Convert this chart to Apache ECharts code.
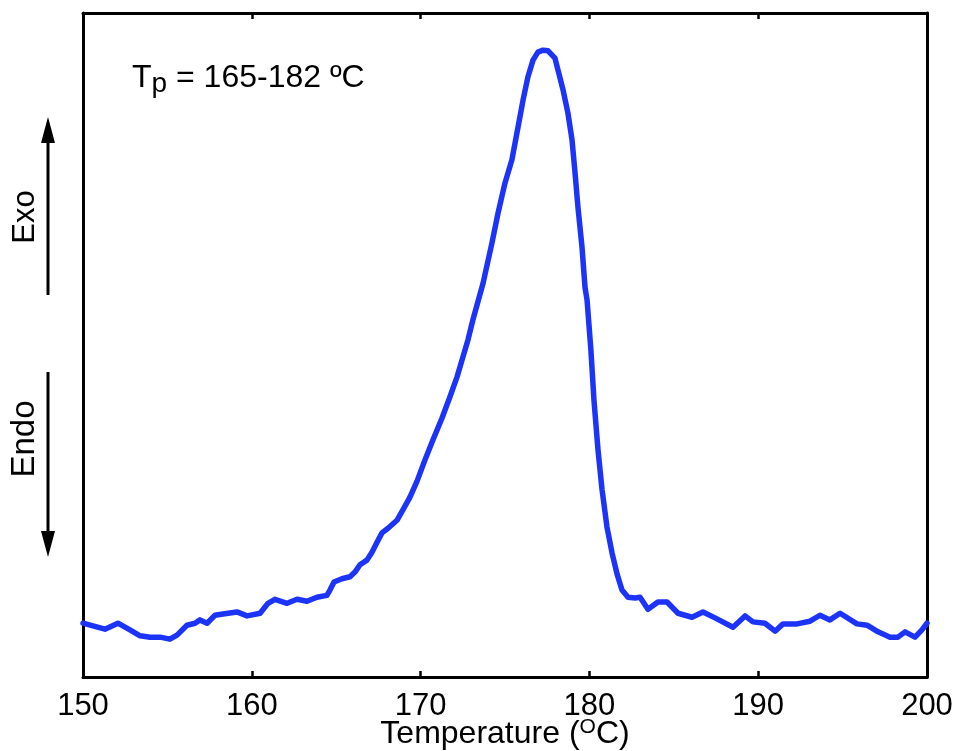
<!DOCTYPE html>
<html>
<head>
<meta charset="utf-8">
<script src="https://cdn.jsdelivr.net/npm/echarts@6/dist/echarts.min.js"></script>
<style>
html,body{margin:0;padding:0;background:#fff;}
#chart{width:957px;height:751px;}
</style>
</head>
<body>
<div id="chart"></div>
<script>
// Temperature (°C) of each sampled point on the DSC curve
const temperature = [
  150.00,150.59,151.30,152.07,152.78,153.38,153.97,154.56,155.15,155.57,
  156.16,156.64,156.93,157.35,157.82,158.29,159.12,159.72,160.49,160.96,
  161.37,162.09,162.68,163.27,163.86,164.45,164.63,164.87,165.34,165.82,
  166.11,166.41,166.82,167.12,167.42,167.71,168.07,168.60,168.96,169.37,
  169.79,170.26,170.73,171.27,171.74,172.16,172.45,172.81,173.10,173.70,
  174.23,174.59,175.00,175.41,175.77,176.07,176.36,176.66,176.95,177.25,
  177.55,177.96,178.14,178.44,178.73,178.97,179.15,179.32,179.56,179.74,
  179.86,180.09,180.27,180.51,180.75,181.04,181.34,181.64,181.93,182.29,
  182.70,183.00,183.47,184.06,184.60,185.25,186.08,186.73,187.44,188.51,
  189.22,189.69,190.40,191.00,191.47,192.30,193.07,193.66,194.25,194.85,
  195.85,196.45,197.10,197.81,198.28,198.70,199.29,199.70,200.00
];
// Heat flow (arbitrary units, exo up)
const heatFlow = [
  0.81,0.77,0.72,0.81,0.71,0.62,0.60,0.60,0.57,0.63,
  0.78,0.81,0.86,0.81,0.93,0.95,0.98,0.92,0.96,1.11,
  1.17,1.11,1.17,1.14,1.20,1.23,1.31,1.43,1.48,1.51,
  1.58,1.69,1.76,1.88,2.03,2.17,2.24,2.36,2.52,2.71,
  2.95,3.27,3.57,3.90,4.22,4.52,4.77,5.08,5.38,5.93,
  6.54,6.99,7.44,7.79,8.28,8.69,9.04,9.29,9.41,9.44,
  9.43,9.32,9.14,8.84,8.49,8.09,7.59,7.08,6.48,5.87,
  5.68,4.92,4.17,3.42,2.82,2.26,1.87,1.55,1.31,1.20,
  1.19,1.20,1.02,1.13,1.13,0.96,0.90,0.98,0.89,0.75,
  0.92,0.83,0.81,0.69,0.80,0.80,0.84,0.93,0.86,0.96,
  0.80,0.78,0.68,0.60,0.60,0.68,0.60,0.71,0.81
];
const xTicks = [150, 160, 170, 180, 190, 200];

const FONT = "'Liberation Sans', Arial, sans-serif";
const chart = echarts.init(document.getElementById('chart'), null, {renderer: 'canvas'});

const series = [{
  type: 'line',
  data: temperature.map((t, i) => [t, heatFlow[i]]),
  showSymbol: false,
  lineStyle: {color: '#1c34f8', width: 5.5, join: 'round', cap: 'round'},
  itemStyle: {color: '#1c34f8'},
  animation: false
}];

const axisLine = {show: true, onZero: false, lineStyle: {color: '#000', width: 3}};

chart.setOption({
  animation: false,
  backgroundColor: '#fff',
  grid: {left: 83, right: 30, top: 13, bottom: 74, containLabel: false, outerBoundsMode: 'none'},
  xAxis: [{
    type: 'value', position: 'bottom',
    min: xTicks[0], max: xTicks[xTicks.length - 1], interval: 10,
    axisLine: axisLine,
    axisTick: {show: true, inside: true, length: 6, lineStyle: {color: '#000', width: 2.5}},
    axisLabel: {show: true, color: '#000', fontSize: 31, fontFamily: FONT, margin: 14},
    splitLine: {show: false},
    name: '{a|Temperature (}{s|O}{a|C)}',
    nameLocation: 'middle', nameGap: 40, nameMoveOverlap: false,
    nameTextStyle: {
      color: '#000', fontFamily: FONT, fontSize: 32,
      rich: {
        a: {fontSize: 32, fontFamily: FONT, color: '#000', lineHeight: 34},
        s: {fontSize: 21, fontFamily: FONT, color: '#000', lineHeight: 21, verticalAlign: 'top'}
      }
    }
  }, {
    type: 'value', position: 'top',
    min: xTicks[0], max: xTicks[xTicks.length - 1], interval: 10,
    axisLine: axisLine,
    axisTick: {show: true, inside: true, length: 6, lineStyle: {color: '#000', width: 2.5}},
    axisLabel: {show: false},
    splitLine: {show: false}
  }],
  yAxis: [{
    type: 'value', position: 'left', min: 0, max: 10,
    axisLine: axisLine, axisTick: {show: false}, axisLabel: {show: false}, splitLine: {show: false}
  }, {
    type: 'value', position: 'right', min: 0, max: 10,
    axisLine: axisLine, axisTick: {show: false}, axisLabel: {show: false}, splitLine: {show: false}
  }],
  series: series,
  graphic: [
    // Exo arrow
    {type: 'line', shape: {x1: 48, y1: 295, x2: 48, y2: 138}, style: {stroke: '#000', lineWidth: 3}},
    {type: 'polygon', shape: {points: [[48, 117], [41, 143], [55, 143]]}, style: {fill: '#000'}},
    {type: 'text', x: 25, y: 217, rotation: Math.PI / 2,
      style: {text: 'Exo', fontSize: 31, fontFamily: FONT, fill: '#000', align: 'center', verticalAlign: 'middle'}},
    // Endo arrow
    {type: 'line', shape: {x1: 48, y1: 372, x2: 48, y2: 535}, style: {stroke: '#000', lineWidth: 3}},
    {type: 'polygon', shape: {points: [[48, 557], [41, 531], [55, 531]]}, style: {fill: '#000'}},
    {type: 'text', x: 25, y: 439, rotation: Math.PI / 2,
      style: {text: 'Endo', fontSize: 33, fontFamily: FONT, fill: '#000', align: 'center', verticalAlign: 'middle'}},
    // Tp annotation
    {type: 'text', x: 132, y: 78,
      style: {
        text: '{a|T}{p|p}{a| = 165-182 ºC}',
        align: 'left', verticalAlign: 'middle',
        rich: {
          a: {fontSize: 32, fontFamily: FONT, fill: '#000', lineHeight: 40},
          p: {fontSize: 28, fontFamily: FONT, fill: '#000', lineHeight: 28, verticalAlign: 'bottom'}
        }
      }}
  ]
});
</script>
</body>
</html>
